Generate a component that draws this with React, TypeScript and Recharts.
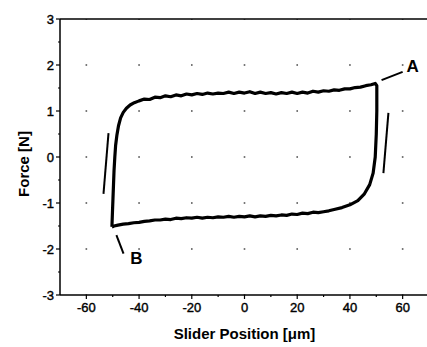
import {
  LineChart,
  Line,
  XAxis,
  YAxis,
  CartesianGrid,
  ReferenceLine,
  ReferenceDot,
  Label,
} from 'recharts';

// Hysteresis loop, traced from B up the left flank, across the top to A,
// down the right flank and back along the bottom to B.
const loopX = [
  -50.3, -50.1, -49.9, -49.7, -49.5, -49.2, -48.9, -48.4, -47.8, -47.0, -46.0, -44.8, -43.4, -41.8,
  -40, -38, -36, -34, -32, -30, -28, -26, -24, -22, -20, -18, -16, -14, -12, -10, -8, -6, -4, -2,
  0, 2, 4, 6, 8, 10, 12, 14, 16, 18, 20, 22, 24, 26, 28, 30, 32, 34, 36, 38, 40, 42, 44, 46, 48,
  49.6, 50.2, 50.2, 50.0, 49.6, 48.8, 47.5, 45.5, 43.0, 40.0, 37.0, 34.0,
  32, 30, 28, 26, 24, 22, 20, 18, 16, 14, 12, 10, 8, 6, 4, 2, 0, -2, -4, -6, -8, -10, -12, -14,
  -16, -18, -20, -22, -24, -26, -28, -30, -32, -34, -36, -38, -40, -42, -44, -46, -48, -49.5, -50.3,
];
const loopY = [
  -1.52, -1.2, -0.9, -0.6, -0.3, 0.0, 0.25, 0.48, 0.68, 0.85, 0.97, 1.06, 1.13, 1.18,
  1.22, 1.26, 1.25, 1.3, 1.29, 1.33, 1.31, 1.35, 1.33, 1.37, 1.35, 1.38, 1.36, 1.39, 1.37, 1.39, 1.38, 1.41, 1.38, 1.41,
  1.39, 1.42, 1.38, 1.41, 1.38, 1.4, 1.37, 1.4, 1.38, 1.41, 1.38, 1.41, 1.39, 1.43, 1.41, 1.44, 1.43, 1.46, 1.45, 1.48, 1.48, 1.51, 1.52, 1.55, 1.57,
  1.6, 1.55, 1.0, 0.5, 0.0, -0.35, -0.6, -0.8, -0.95, -1.04, -1.1, -1.14,
  -1.17, -1.19, -1.21, -1.2, -1.23, -1.22, -1.25, -1.24, -1.27, -1.26, -1.28, -1.27, -1.29, -1.28, -1.3, -1.28, -1.3, -1.29, -1.31, -1.29, -1.31, -1.3, -1.32, -1.31,
  -1.33, -1.31, -1.33, -1.32, -1.34, -1.33, -1.36, -1.35, -1.37, -1.37, -1.39, -1.4, -1.42, -1.43, -1.45, -1.46, -1.48, -1.5, -1.52,
];
const loop = loopX.map((x, i) => ({ x, y: loopY[i] }));

const xDomain = [-70, 70];
const xMajor = [-60, -40, -20, 0, 20, 40, 60];
const xTicks = [-60, -50, -40, -30, -20, -10, 0, 10, 20, 30, 40, 50, 60];
const yTicks = [-3, -2.5, -2, -1.5, -1, -0.5, 0, 0.5, 1, 1.5, 2, 2.5, 3];

// slope marks beside the flanks and the A / B callouts
const leftSlope = [{ x: -51.6, y: 0.52 }, { x: -53.5, y: -0.8 }];
const rightSlope = [{ x: 54.6, y: 0.96 }, { x: 52.7, y: -0.35 }];
const leaderA = [{ x: 52, y: 1.67 }, { x: 60, y: 1.85 }];
const leaderB = [{ x: -48.6, y: -1.7 }, { x: -45.9, y: -2.1 }];
const tagA = { x: 63.8, y: 1.98, text: 'A' };
const tagB = { x: -41, y: -2.2, text: 'B' };

const font = '"Liberation Sans", Arial, sans-serif';
const tickText = { fontSize: 13, fontFamily: font, fill: '#000', stroke: '#000', strokeWidth: 0.4 };

function XTick({ x, y, payload }: any) {
  const major = payload.value % 20 === 0;
  return (
    <g>
      <line x1={x} x2={x} y1={y} y2={y + (major ? 4 : 2)} stroke="#000" strokeWidth={1.2} />
      {major && (
        <text x={x} y={y + 17} textAnchor="middle" {...tickText}>
          {payload.value}
        </text>
      )}
    </g>
  );
}

function YTick({ x, y, payload }: any) {
  const major = Number.isInteger(payload.value);
  return (
    <g>
      <line x1={x} x2={x - (major ? 4 : 2)} y1={y} y2={y} stroke="#000" strokeWidth={1.2} />
      {major && (
        <text x={x - 6} y={y + 4.5} textAnchor="end" {...tickText}>
          {payload.value}
        </text>
      )}
    </g>
  );
}

// dotted grid only at the labelled x positions
const majorColumns = ({ offset }: any) =>
  xMajor.map((v) => offset.left + ((v - xDomain[0]) / (xDomain[1] - xDomain[0])) * offset.width);

const titleStyle = { fontFamily: font, fontSize: 15, fontWeight: 'bold', fill: '#000' };

export default function App() {
  return (
    <div style={{ position: 'absolute', left: 0, top: 0, width: 427, height: 347, overflow: 'hidden', background: '#fff' }}>
      <LineChart width={440} height={347} margin={{ top: 19, right: 11, bottom: 18, left: 0 }}>
        <CartesianGrid
          horizontal={false}
          verticalCoordinatesGenerator={majorColumns}
          stroke="#777"
          strokeWidth={1.6}
          strokeDasharray="2 44"
          strokeDashoffset={1}
        />
        <XAxis
          dataKey="x"
          type="number"
          domain={xDomain}
          ticks={xTicks}
          interval={0}
          tickSize={0}
          tickMargin={0}
          tick={<XTick />}
          tickLine={false}
          axisLine={{ stroke: '#000', strokeWidth: 1.5 }}
          height={34}
          allowDataOverflow
        >
          <Label value="Slider Position [μm]" position="bottom" offset={-1} style={titleStyle} />
        </XAxis>
        <YAxis
          type="number"
          domain={[-3, 3]}
          ticks={yTicks}
          interval={0}
          tickSize={0}
          tickMargin={0}
          tick={<YTick />}
          tickLine={false}
          axisLine={{ stroke: '#000', strokeWidth: 1.5 }}
          width={60}
          allowDataOverflow
        >
          <Label
            content={() => (
              <text transform="translate(29,164) rotate(-90)" textAnchor="middle" style={titleStyle}>
                Force [N]
              </text>
            )}
          />
        </YAxis>
        <ReferenceLine y={3} stroke="#000" strokeWidth={1.5} />
        <Line
          data={loop}
          dataKey="y"
          type="linear"
          stroke="#000"
          strokeWidth={3.2}
          strokeLinejoin="round"
          dot={false}
          isAnimationActive={false}
        />
        <ReferenceLine segment={leftSlope} stroke="#000" strokeWidth={2} />
        <ReferenceLine segment={rightSlope} stroke="#000" strokeWidth={2} />
        <ReferenceLine segment={leaderA} stroke="#000" strokeWidth={2} />
        <ReferenceLine segment={leaderB} stroke="#000" strokeWidth={2} />
        {[tagA, tagB].map((t) => (
          <ReferenceDot key={t.text} x={t.x} y={t.y} r={0} fill="none" stroke="none">
            <Label
              value={t.text}
              position="center"
              style={{ fontFamily: font, fontSize: 17, fontWeight: 'bold', fill: '#000' }}
            />
          </ReferenceDot>
        ))}
      </LineChart>
    </div>
  );
}
